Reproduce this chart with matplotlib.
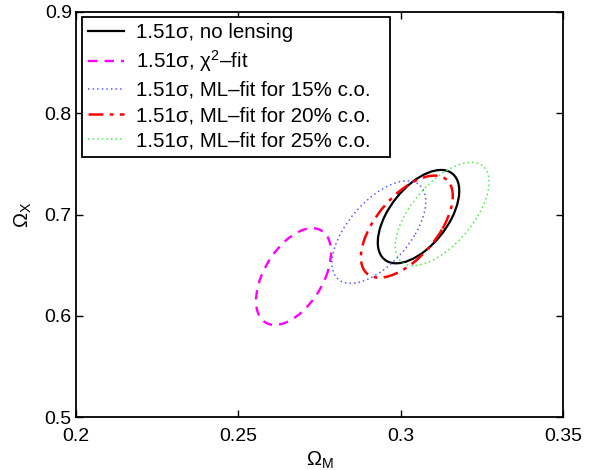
import numpy as np
import matplotlib
matplotlib.use("Agg")
import matplotlib.pyplot as plt
from matplotlib.patches import Ellipse
from matplotlib.lines import Line2D

plt.rcParams['font.family'] = ['Liberation Sans', 'DejaVu Sans']
plt.rcParams['mathtext.fontset'] = 'custom'
plt.rcParams['mathtext.rm'] = 'Liberation Sans'
plt.rcParams['mathtext.it'] = 'Liberation Sans'
plt.rcParams['mathtext.sf'] = 'Liberation Sans'

# ---- data: confidence ellipses (center, half-extent in x and y, correlation) ----
labels = ['1.51σ, no lensing',
          '1.51σ, χ$^2$–fit',
          '1.51σ, ML–fit for 15% c.o.',
          '1.51σ, ML–fit for 20% c.o.',
          '1.51σ, ML–fit for 25% c.o.']
center_x = [0.3055, 0.2670, 0.2933, 0.3019, 0.3128]
center_y = [0.6979, 0.6387, 0.6826, 0.6880, 0.7005]
half_x = [0.01255, 0.01155, 0.01445, 0.01415, 0.01445]
half_y = [0.0461, 0.0478, 0.0506, 0.0504, 0.0511]
rho = [0.55, 0.50, 0.60, 0.60, 0.62]

colors = ['black', '#ff00ff', '#5a5aff', '#ff0000', '#44ee44']
styles = ['-', (0, (4, 3)), (0, (1, 2)), (0, (6, 2.5, 1.5, 2.5)), (0, (1, 2))]
widths = [1.6, 1.7, 1.1, 1.8, 1.1]

xticks = [0.2, 0.25, 0.3, 0.35]
xticklabels = ['0.2', '0.25', '0.3', '0.35']
yticks = [0.5, 0.6, 0.7, 0.8, 0.9]
yticklabels = ['0.5', '0.6', '0.7', '0.8', '0.9']

fig = plt.figure(figsize=(6.11, 4.70), dpi=100)
ax = fig.add_axes([76/611, 53/470, 487/611, 405/470])

handles = []
for i in range(len(labels)):
    C = np.array([[half_x[i]**2, rho[i]*half_x[i]*half_y[i]],
                  [rho[i]*half_x[i]*half_y[i], half_y[i]**2]])
    vals, vecs = np.linalg.eigh(C)
    ang = np.degrees(np.arctan2(vecs[1, 1], vecs[0, 1]))
    e = Ellipse((center_x[i], center_y[i]), 2*np.sqrt(vals[1]), 2*np.sqrt(vals[0]),
                angle=ang, fill=False, edgecolor=colors[i], linestyle=styles[i],
                linewidth=widths[i])
    ax.add_patch(e)
    handles.append(Line2D([], [], color=colors[i], linestyle=styles[i], linewidth=widths[i]))

ax.set_xlim(0.2, 0.35)
ax.set_ylim(0.5, 0.9)
ax.set_xticks(xticks)
ax.set_xticklabels(xticklabels)
ax.set_yticks(yticks)
ax.set_yticklabels(yticklabels)
ax.tick_params(axis='both', direction='in', top=True, right=True, length=5, width=1.0,
               labelsize=14)
ax.tick_params(axis='x', pad=8)
ax.tick_params(axis='y', pad=3)
for s in ax.spines.values():
    s.set_linewidth(1.3)

ax.set_xlabel(r'$\Omega_\mathrm{M}$', fontsize=14.5, labelpad=3)
ax.set_ylabel(r'$\Omega_\mathrm{X}$', fontsize=14.5, labelpad=8)

leg = ax.legend(handles, labels, loc='upper left', fontsize=14.8,
                bbox_to_anchor=(6/487, 0.0, 308/487, 1 - 5/405), mode='expand',
                frameon=True, fancybox=False, edgecolor='black',
                borderaxespad=0.0, handlelength=1.75, handletextpad=0.6,
                labelspacing=0.31, borderpad=0.3)
leg.get_frame().set_linewidth(1.3)
leg.get_frame().set_alpha(1)

fig.savefig('out.png', dpi=100)
